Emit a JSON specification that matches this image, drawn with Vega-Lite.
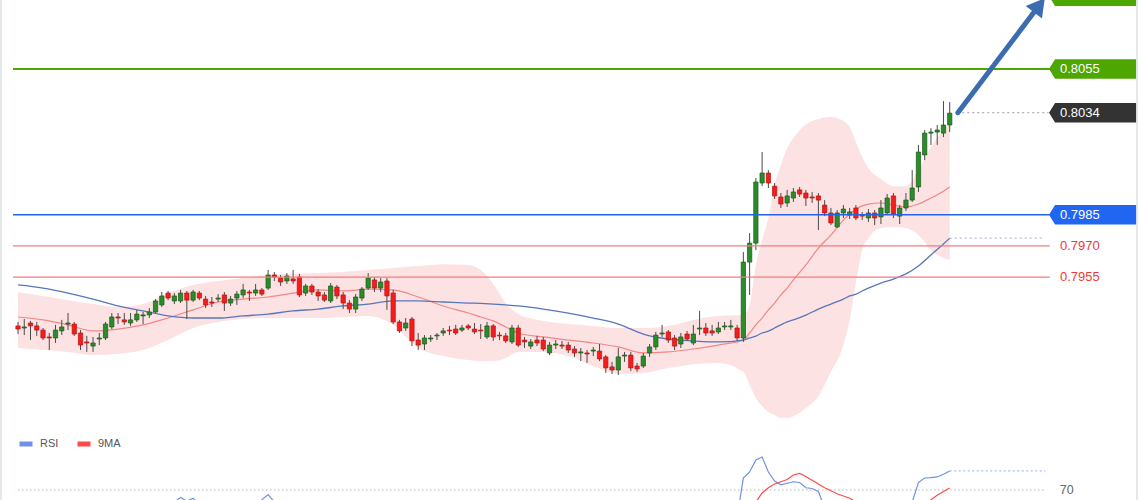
{
"$schema": "https://vega.github.io/schema/vega-lite/v6.json",
"width": 1140, "height": 500, "autosize": {"type": "none"}, "padding": 0,
"background": "#ffffff",
"config": {"view": {"stroke": null}, "font": "Liberation Sans"},
"datasets": {
"candles": [
{"i":0,"o":0.79315,"c":0.79300,"h":0.79334,"l":0.79276},
{"i":1,"o":0.79305,"c":0.79310,"h":0.79348,"l":0.79271},
{"i":2,"o":0.79329,"c":0.79315,"h":0.79339,"l":0.79247},
{"i":3,"o":0.79315,"c":0.79295,"h":0.79334,"l":0.79267},
{"i":4,"o":0.79295,"c":0.79257,"h":0.79305,"l":0.79247},
{"i":5,"o":0.79262,"c":0.79257,"h":0.79281,"l":0.79199},
{"i":6,"o":0.79257,"c":0.79295,"h":0.79320,"l":0.79233},
{"i":7,"o":0.79291,"c":0.79310,"h":0.79344,"l":0.79271},
{"i":8,"o":0.79324,"c":0.79329,"h":0.79377,"l":0.79295},
{"i":9,"o":0.79324,"c":0.79276,"h":0.79334,"l":0.79267},
{"i":10,"o":0.79281,"c":0.79223,"h":0.79295,"l":0.79199},
{"i":11,"o":0.79238,"c":0.79233,"h":0.79267,"l":0.79190},
{"i":12,"o":0.79218,"c":0.79233,"h":0.79262,"l":0.79190},
{"i":13,"o":0.79252,"c":0.79257,"h":0.79281,"l":0.79223},
{"i":14,"o":0.79257,"c":0.79324,"h":0.79334,"l":0.79247},
{"i":15,"o":0.79310,"c":0.79358,"h":0.79377,"l":0.79300},
{"i":16,"o":0.79358,"c":0.79353,"h":0.79377,"l":0.79324},
{"i":17,"o":0.79344,"c":0.79334,"h":0.79377,"l":0.79320},
{"i":18,"o":0.79329,"c":0.79344,"h":0.79377,"l":0.79315},
{"i":19,"o":0.79344,"c":0.79372,"h":0.79392,"l":0.79334},
{"i":20,"o":0.79363,"c":0.79368,"h":0.79382,"l":0.79324},
{"i":21,"o":0.79368,"c":0.79382,"h":0.79401,"l":0.79353},
{"i":22,"o":0.79382,"c":0.79435,"h":0.79444,"l":0.79377},
{"i":23,"o":0.79416,"c":0.79459,"h":0.79478,"l":0.79406},
{"i":24,"o":0.79473,"c":0.79449,"h":0.79483,"l":0.79439},
{"i":25,"o":0.79435,"c":0.79459,"h":0.79473,"l":0.79420},
{"i":26,"o":0.79435,"c":0.79473,"h":0.79488,"l":0.79425},
{"i":27,"o":0.79473,"c":0.79439,"h":0.79483,"l":0.79348},
{"i":28,"o":0.79439,"c":0.79478,"h":0.79488,"l":0.79430},
{"i":29,"o":0.79473,"c":0.79449,"h":0.79483,"l":0.79439},
{"i":30,"o":0.79444,"c":0.79416,"h":0.79459,"l":0.79401},
{"i":31,"o":0.79430,"c":0.79425,"h":0.79454,"l":0.79406},
{"i":32,"o":0.79444,"c":0.79449,"h":0.79468,"l":0.79430},
{"i":33,"o":0.79464,"c":0.79425,"h":0.79478,"l":0.79387},
{"i":34,"o":0.79425,"c":0.79444,"h":0.79459,"l":0.79411},
{"i":35,"o":0.79449,"c":0.79468,"h":0.79483,"l":0.79416},
{"i":36,"o":0.79464,"c":0.79488,"h":0.79517,"l":0.79449},
{"i":37,"o":0.79478,"c":0.79473,"h":0.79488,"l":0.79435},
{"i":38,"o":0.79473,"c":0.79488,"h":0.79517,"l":0.79459},
{"i":39,"o":0.79488,"c":0.79468,"h":0.79497,"l":0.79459},
{"i":40,"o":0.79497,"c":0.79560,"h":0.79584,"l":0.79488},
{"i":41,"o":0.79560,"c":0.79550,"h":0.79574,"l":0.79531},
{"i":42,"o":0.79545,"c":0.79526,"h":0.79560,"l":0.79507},
{"i":43,"o":0.79531,"c":0.79555,"h":0.79569,"l":0.79517},
{"i":44,"o":0.79541,"c":0.79531,"h":0.79584,"l":0.79517},
{"i":45,"o":0.79550,"c":0.79464,"h":0.79565,"l":0.79454},
{"i":46,"o":0.79473,"c":0.79507,"h":0.79517,"l":0.79459},
{"i":47,"o":0.79507,"c":0.79478,"h":0.79517,"l":0.79464},
{"i":48,"o":0.79478,"c":0.79459,"h":0.79492,"l":0.79435},
{"i":49,"o":0.79464,"c":0.79439,"h":0.79478,"l":0.79430},
{"i":50,"o":0.79435,"c":0.79507,"h":0.79521,"l":0.79425},
{"i":51,"o":0.79502,"c":0.79459,"h":0.79512,"l":0.79444},
{"i":52,"o":0.79464,"c":0.79425,"h":0.79478,"l":0.79396},
{"i":53,"o":0.79425,"c":0.79396,"h":0.79439,"l":0.79377},
{"i":54,"o":0.79396,"c":0.79454,"h":0.79468,"l":0.79377},
{"i":55,"o":0.79449,"c":0.79492,"h":0.79502,"l":0.79435},
{"i":56,"o":0.79497,"c":0.79545,"h":0.79569,"l":0.79488},
{"i":57,"o":0.79536,"c":0.79497,"h":0.79550,"l":0.79478},
{"i":58,"o":0.79497,"c":0.79526,"h":0.79545,"l":0.79478},
{"i":59,"o":0.79531,"c":0.79459,"h":0.79545,"l":0.79392},
{"i":60,"o":0.79473,"c":0.79334,"h":0.79488,"l":0.79324},
{"i":61,"o":0.79334,"c":0.79291,"h":0.79344,"l":0.79281},
{"i":62,"o":0.79305,"c":0.79329,"h":0.79353,"l":0.79291},
{"i":63,"o":0.79348,"c":0.79243,"h":0.79358,"l":0.79218},
{"i":64,"o":0.79247,"c":0.79223,"h":0.79281,"l":0.79199},
{"i":65,"o":0.79228,"c":0.79257,"h":0.79271,"l":0.79199},
{"i":66,"o":0.79252,"c":0.79257,"h":0.79271,"l":0.79238},
{"i":67,"o":0.79267,"c":0.79271,"h":0.79281,"l":0.79247},
{"i":68,"o":0.79281,"c":0.79291,"h":0.79305,"l":0.79267},
{"i":69,"o":0.79295,"c":0.79291,"h":0.79315,"l":0.79271},
{"i":70,"o":0.79300,"c":0.79281,"h":0.79320,"l":0.79271},
{"i":71,"o":0.79295,"c":0.79305,"h":0.79320,"l":0.79286},
{"i":72,"o":0.79315,"c":0.79305,"h":0.79324,"l":0.79295},
{"i":73,"o":0.79300,"c":0.79286,"h":0.79329,"l":0.79276},
{"i":74,"o":0.79295,"c":0.79291,"h":0.79324,"l":0.79252},
{"i":75,"o":0.79262,"c":0.79315,"h":0.79334,"l":0.79252},
{"i":76,"o":0.79315,"c":0.79262,"h":0.79324,"l":0.79243},
{"i":77,"o":0.79271,"c":0.79267,"h":0.79286,"l":0.79247},
{"i":78,"o":0.79267,"c":0.79243,"h":0.79281,"l":0.79233},
{"i":79,"o":0.79238,"c":0.79305,"h":0.79320,"l":0.79228},
{"i":80,"o":0.79305,"c":0.79223,"h":0.79320,"l":0.79214},
{"i":81,"o":0.79247,"c":0.79238,"h":0.79262,"l":0.79209},
{"i":82,"o":0.79218,"c":0.79238,"h":0.79252,"l":0.79204},
{"i":83,"o":0.79247,"c":0.79233,"h":0.79267,"l":0.79218},
{"i":84,"o":0.79247,"c":0.79204,"h":0.79262,"l":0.79194},
{"i":85,"o":0.79185,"c":0.79223,"h":0.79238,"l":0.79175},
{"i":86,"o":0.79223,"c":0.79228,"h":0.79247,"l":0.79204},
{"i":87,"o":0.79223,"c":0.79218,"h":0.79243,"l":0.79204},
{"i":88,"o":0.79223,"c":0.79199,"h":0.79238,"l":0.79185},
{"i":89,"o":0.79204,"c":0.79185,"h":0.79218,"l":0.79166},
{"i":90,"o":0.79185,"c":0.79190,"h":0.79209,"l":0.79146},
{"i":91,"o":0.79185,"c":0.79180,"h":0.79199,"l":0.79137},
{"i":92,"o":0.79194,"c":0.79199,"h":0.79214,"l":0.79170},
{"i":93,"o":0.79194,"c":0.79156,"h":0.79228,"l":0.79146},
{"i":94,"o":0.79166,"c":0.79113,"h":0.79175,"l":0.79089},
{"i":95,"o":0.79118,"c":0.79103,"h":0.79142,"l":0.79084},
{"i":96,"o":0.79103,"c":0.79166,"h":0.79209,"l":0.79079},
{"i":97,"o":0.79170,"c":0.79175,"h":0.79190,"l":0.79142},
{"i":98,"o":0.79175,"c":0.79113,"h":0.79190,"l":0.79098},
{"i":99,"o":0.79122,"c":0.79108,"h":0.79137,"l":0.79094},
{"i":100,"o":0.79122,"c":0.79170,"h":0.79185,"l":0.79113},
{"i":101,"o":0.79185,"c":0.79214,"h":0.79228,"l":0.79166},
{"i":102,"o":0.79214,"c":0.79271,"h":0.79286,"l":0.79199},
{"i":103,"o":0.79276,"c":0.79281,"h":0.79320,"l":0.79262},
{"i":104,"o":0.79286,"c":0.79247,"h":0.79295,"l":0.79233},
{"i":105,"o":0.79257,"c":0.79218,"h":0.79271,"l":0.79199},
{"i":106,"o":0.79228,"c":0.79262,"h":0.79281,"l":0.79209},
{"i":107,"o":0.79276,"c":0.79252,"h":0.79291,"l":0.79243},
{"i":108,"o":0.79233,"c":0.79276,"h":0.79320,"l":0.79223},
{"i":109,"o":0.79300,"c":0.79305,"h":0.79387,"l":0.79271},
{"i":110,"o":0.79305,"c":0.79281,"h":0.79329,"l":0.79267},
{"i":111,"o":0.79291,"c":0.79281,"h":0.79320,"l":0.79267},
{"i":112,"o":0.79286,"c":0.79305,"h":0.79334,"l":0.79276},
{"i":113,"o":0.79310,"c":0.79315,"h":0.79334,"l":0.79295},
{"i":114,"o":0.79310,"c":0.79315,"h":0.79344,"l":0.79295},
{"i":115,"o":0.79305,"c":0.79257,"h":0.79320,"l":0.79243},
{"i":116,"o":0.79257,"c":0.79622,"h":0.79670,"l":0.79238},
{"i":117,"o":0.79622,"c":0.79713,"h":0.79761,"l":0.79464},
{"i":118,"o":0.79713,"c":0.80007,"h":0.80026,"l":0.79679},
{"i":119,"o":0.80002,"c":0.80050,"h":0.80151,"l":0.79987},
{"i":120,"o":0.80050,"c":0.80002,"h":0.80064,"l":0.79978},
{"i":121,"o":0.79987,"c":0.79940,"h":0.80002,"l":0.79925},
{"i":122,"o":0.79935,"c":0.79901,"h":0.79954,"l":0.79882},
{"i":123,"o":0.79906,"c":0.79940,"h":0.79969,"l":0.79887},
{"i":124,"o":0.79930,"c":0.79959,"h":0.79978,"l":0.79911},
{"i":125,"o":0.79969,"c":0.79949,"h":0.79983,"l":0.79935},
{"i":126,"o":0.79954,"c":0.79930,"h":0.79969,"l":0.79892},
{"i":127,"o":0.79935,"c":0.79930,"h":0.79959,"l":0.79906},
{"i":128,"o":0.79940,"c":0.79920,"h":0.79954,"l":0.79776},
{"i":129,"o":0.79896,"c":0.79858,"h":0.79920,"l":0.79843},
{"i":130,"o":0.79858,"c":0.79810,"h":0.79882,"l":0.79800},
{"i":131,"o":0.79791,"c":0.79858,"h":0.79872,"l":0.79786},
{"i":132,"o":0.79858,"c":0.79877,"h":0.79896,"l":0.79834},
{"i":133,"o":0.79848,"c":0.79863,"h":0.79882,"l":0.79829},
{"i":134,"o":0.79882,"c":0.79834,"h":0.79896,"l":0.79824},
{"i":135,"o":0.79848,"c":0.79843,"h":0.79863,"l":0.79824},
{"i":136,"o":0.79834,"c":0.79858,"h":0.79877,"l":0.79815},
{"i":137,"o":0.79858,"c":0.79834,"h":0.79872,"l":0.79800},
{"i":138,"o":0.79839,"c":0.79882,"h":0.79920,"l":0.79805},
{"i":139,"o":0.79858,"c":0.79930,"h":0.79949,"l":0.79848},
{"i":140,"o":0.79940,"c":0.79853,"h":0.79954,"l":0.79834},
{"i":141,"o":0.79843,"c":0.79882,"h":0.79896,"l":0.79805},
{"i":142,"o":0.79882,"c":0.79920,"h":0.79954,"l":0.79868},
{"i":143,"o":0.79920,"c":0.79978,"h":0.80064,"l":0.79911},
{"i":144,"o":0.79983,"c":0.80151,"h":0.80185,"l":0.79959},
{"i":145,"o":0.80137,"c":0.80242,"h":0.80257,"l":0.80112},
{"i":146,"o":0.80242,"c":0.80247,"h":0.80266,"l":0.80185},
{"i":147,"o":0.80247,"c":0.80257,"h":0.80281,"l":0.80185},
{"i":148,"o":0.80242,"c":0.80281,"h":0.80396,"l":0.80223},
{"i":149,"o":0.80281,"c":0.80338,"h":0.80391,"l":0.80247}
],
"band": [
{"i":0,"up":0.79478,"lo":0.79209,"mid":0.79358,"ma":0.79512},
{"i":4,"up":0.79459,"lo":0.79199,"mid":0.79344,"ma":0.79497},
{"i":8,"up":0.79439,"lo":0.79190,"mid":0.79320,"ma":0.79473},
{"i":12,"up":0.79420,"lo":0.79175,"mid":0.79291,"ma":0.79444},
{"i":16,"up":0.79406,"lo":0.79180,"mid":0.79300,"ma":0.79411},
{"i":20,"up":0.79420,"lo":0.79199,"mid":0.79320,"ma":0.79387},
{"i":24,"up":0.79473,"lo":0.79247,"mid":0.79353,"ma":0.79363},
{"i":28,"up":0.79512,"lo":0.79305,"mid":0.79392,"ma":0.79353},
{"i":32,"up":0.79531,"lo":0.79334,"mid":0.79430,"ma":0.79353},
{"i":36,"up":0.79545,"lo":0.79348,"mid":0.79444,"ma":0.79363},
{"i":40,"up":0.79560,"lo":0.79353,"mid":0.79454,"ma":0.79372},
{"i":44,"up":0.79565,"lo":0.79353,"mid":0.79473,"ma":0.79387},
{"i":48,"up":0.79569,"lo":0.79353,"mid":0.79488,"ma":0.79396},
{"i":52,"up":0.79574,"lo":0.79358,"mid":0.79483,"ma":0.79411},
{"i":56,"up":0.79584,"lo":0.79363,"mid":0.79492,"ma":0.79420},
{"i":60,"up":0.79593,"lo":0.79320,"mid":0.79488,"ma":0.79435},
{"i":64,"up":0.79603,"lo":0.79209,"mid":0.79454,"ma":0.79435},
{"i":68,"up":0.79612,"lo":0.79170,"mid":0.79411,"ma":0.79430},
{"i":72,"up":0.79608,"lo":0.79151,"mid":0.79377,"ma":0.79425},
{"i":74,"up":0.79584,"lo":0.79146,"mid":0.79358,"ma":0.79423},
{"i":76,"up":0.79517,"lo":0.79146,"mid":0.79339,"ma":0.79420},
{"i":78,"up":0.79425,"lo":0.79161,"mid":0.79310,"ma":0.79416},
{"i":80,"up":0.79372,"lo":0.79190,"mid":0.79281,"ma":0.79411},
{"i":84,"up":0.79339,"lo":0.79190,"mid":0.79262,"ma":0.79396},
{"i":88,"up":0.79324,"lo":0.79170,"mid":0.79247,"ma":0.79377},
{"i":92,"up":0.79315,"lo":0.79122,"mid":0.79233,"ma":0.79353},
{"i":96,"up":0.79305,"lo":0.79084,"mid":0.79214,"ma":0.79324},
{"i":100,"up":0.79305,"lo":0.79089,"mid":0.79185,"ma":0.79276},
{"i":104,"up":0.79315,"lo":0.79113,"mid":0.79190,"ma":0.79252},
{"i":108,"up":0.79344,"lo":0.79131,"mid":0.79204,"ma":0.79243},
{"i":112,"up":0.79363,"lo":0.79137,"mid":0.79223,"ma":0.79238},
{"i":116,"up":0.79367,"lo":0.79093,"mid":0.79247,"ma":0.79247},
{"i":117,"up":0.79416,"lo":0.79031,"mid":0.79281,"ma":0.79257},
{"i":118,"up":0.79608,"lo":0.78968,"mid":0.79320,"ma":0.79266},
{"i":119,"up":0.79728,"lo":0.78930,"mid":0.79353,"ma":0.79281},
{"i":120,"up":0.79834,"lo":0.78901,"mid":0.79392,"ma":0.79290},
{"i":121,"up":0.79992,"lo":0.78887,"mid":0.79425,"ma":0.79305},
{"i":122,"up":0.80088,"lo":0.78872,"mid":0.79464,"ma":0.79320},
{"i":123,"up":0.80170,"lo":0.78872,"mid":0.79497,"ma":0.79334},
{"i":124,"up":0.80218,"lo":0.78881,"mid":0.79536,"ma":0.79344},
{"i":126,"up":0.80285,"lo":0.78920,"mid":0.79608,"ma":0.79367},
{"i":128,"up":0.80309,"lo":0.78977,"mid":0.79689,"ma":0.79396},
{"i":130,"up":0.80319,"lo":0.79093,"mid":0.79752,"ma":0.79420},
{"i":132,"up":0.80300,"lo":0.79223,"mid":0.79824,"ma":0.79444},
{"i":133,"up":0.80271,"lo":0.79344,"mid":0.79853,"ma":0.79459},
{"i":134,"up":0.80199,"lo":0.79521,"mid":0.79877,"ma":0.79468},
{"i":135,"up":0.80127,"lo":0.79680,"mid":0.79892,"ma":0.79483},
{"i":136,"up":0.80074,"lo":0.79737,"mid":0.79901,"ma":0.79497},
{"i":138,"up":0.80021,"lo":0.79786,"mid":0.79906,"ma":0.79521},
{"i":140,"up":0.79987,"lo":0.79791,"mid":0.79896,"ma":0.79540},
{"i":142,"up":0.79987,"lo":0.79786,"mid":0.79887,"ma":0.79565},
{"i":144,"up":0.80064,"lo":0.79752,"mid":0.79901,"ma":0.79603},
{"i":146,"up":0.80175,"lo":0.79680,"mid":0.79930,"ma":0.79656},
{"i":148,"up":0.80257,"lo":0.79641,"mid":0.79963,"ma":0.79709},
{"i":149,"up":0.80290,"lo":0.79632,"mid":0.79983,"ma":0.79737}
],
"levels": [
{"p":0.8090,"label":"0.8090","kind":"target"},
{"p":0.8055,"label":"0.8055","kind":"resistance"},
{"p":0.8034,"label":"0.8034","kind":"price"},
{"p":0.7985,"label":"0.7985","kind":"pivot"},
{"p":0.7970,"label":"0.7970","kind":"support1"},
{"p":0.7955,"label":"0.7955","kind":"support2"}
],
"rsilevels": [{"r":70,"label":"70"}],
"arrow": [{"x":150.3,"y":0.8034,"x2":162.5,"y2":0.80824,"hx":163.33,"hy":0.80857}],
"rsi": [
{"i":0,"v":50,"s":"RSI"},{"i":3,"v":47,"s":"RSI"},{"i":6,"v":44,"s":"RSI"},{"i":9,"v":48,"s":"RSI"},{"i":12,"v":41,"s":"RSI"},{"i":15,"v":52,"s":"RSI"},{"i":18,"v":55,"s":"RSI"},{"i":21,"v":58,"s":"RSI"},{"i":23,"v":61,"s":"RSI"},{"i":25,"v":62,"s":"RSI"},{"i":26,"v":65,"s":"RSI"},{"i":27,"v":62.5,"s":"RSI"},{"i":28,"v":64.5,"s":"RSI"},{"i":29,"v":60,"s":"RSI"},{"i":31,"v":55,"s":"RSI"},{"i":33,"v":52,"s":"RSI"},{"i":36,"v":57,"s":"RSI"},{"i":38,"v":60,"s":"RSI"},{"i":40,"v":67,"s":"RSI"},{"i":41,"v":62,"s":"RSI"},{"i":43,"v":58,"s":"RSI"},{"i":45,"v":48,"s":"RSI"},{"i":48,"v":45,"s":"RSI"},{"i":50,"v":52,"s":"RSI"},{"i":53,"v":45,"s":"RSI"},{"i":56,"v":58,"s":"RSI"},{"i":58,"v":56,"s":"RSI"},{"i":60,"v":40,"s":"RSI"},{"i":63,"v":32,"s":"RSI"},{"i":66,"v":38,"s":"RSI"},{"i":70,"v":42,"s":"RSI"},{"i":75,"v":45,"s":"RSI"},{"i":79,"v":44,"s":"RSI"},{"i":82,"v":40,"s":"RSI"},{"i":86,"v":38,"s":"RSI"},{"i":90,"v":36,"s":"RSI"},{"i":94,"v":30,"s":"RSI"},{"i":96,"v":40,"s":"RSI"},{"i":99,"v":34,"s":"RSI"},{"i":102,"v":50,"s":"RSI"},{"i":105,"v":45,"s":"RSI"},{"i":108,"v":50,"s":"RSI"},{"i":110,"v":52,"s":"RSI"},{"i":112,"v":55,"s":"RSI"},{"i":113,"v":56,"s":"RSI"},{"i":114,"v":57,"s":"RSI"},{"i":115,"v":52,"s":"RSI"},{"i":116,"v":78,"s":"RSI"},{"i":117,"v":82,"s":"RSI"},{"i":118,"v":90,"s":"RSI"},{"i":119,"v":92,"s":"RSI"},{"i":120,"v":82,"s":"RSI"},{"i":121,"v":76,"s":"RSI"},{"i":122,"v":73.5,"s":"RSI"},{"i":123,"v":74.5,"s":"RSI"},{"i":124,"v":75.5,"s":"RSI"},{"i":125,"v":75,"s":"RSI"},{"i":126,"v":71.5,"s":"RSI"},{"i":127,"v":71,"s":"RSI"},{"i":128,"v":69,"s":"RSI"},{"i":129,"v":58,"s":"RSI"},{"i":130,"v":50,"s":"RSI"},{"i":131,"v":53,"s":"RSI"},{"i":132,"v":55,"s":"RSI"},{"i":133,"v":55,"s":"RSI"},{"i":134,"v":51,"s":"RSI"},{"i":135,"v":53,"s":"RSI"},{"i":136,"v":54,"s":"RSI"},{"i":137,"v":52,"s":"RSI"},{"i":138,"v":56,"s":"RSI"},{"i":139,"v":60,"s":"RSI"},{"i":140,"v":54,"s":"RSI"},{"i":141,"v":57,"s":"RSI"},{"i":142,"v":60,"s":"RSI"},{"i":143,"v":62,"s":"RSI"},{"i":144,"v":75,"s":"RSI"},{"i":145,"v":78,"s":"RSI"},{"i":146,"v":78.3,"s":"RSI"},{"i":147,"v":78.7,"s":"RSI"},{"i":148,"v":80.5,"s":"RSI"},{"i":149,"v":82.7,"s":"RSI"},
{"i":0,"v":48,"s":"9MA"},{"i":10,"v":47,"s":"9MA"},{"i":20,"v":52,"s":"9MA"},{"i":30,"v":58,"s":"9MA"},{"i":40,"v":60,"s":"9MA"},{"i":50,"v":55,"s":"9MA"},{"i":60,"v":50,"s":"9MA"},{"i":70,"v":40,"s":"9MA"},{"i":80,"v":43,"s":"9MA"},{"i":90,"v":40,"s":"9MA"},{"i":100,"v":38,"s":"9MA"},{"i":110,"v":48,"s":"9MA"},{"i":114,"v":52,"s":"9MA"},{"i":116,"v":56,"s":"9MA"},{"i":117,"v":58.5,"s":"9MA"},{"i":118,"v":62,"s":"9MA"},{"i":119,"v":68,"s":"9MA"},{"i":120,"v":71.5,"s":"9MA"},{"i":121,"v":74,"s":"9MA"},{"i":122,"v":75.5,"s":"9MA"},{"i":123,"v":77,"s":"9MA"},{"i":124,"v":80,"s":"9MA"},{"i":125,"v":81,"s":"9MA"},{"i":126,"v":79,"s":"9MA"},{"i":127,"v":76.5,"s":"9MA"},{"i":128,"v":74,"s":"9MA"},{"i":129,"v":71.5,"s":"9MA"},{"i":130,"v":69.5,"s":"9MA"},{"i":131,"v":67.5,"s":"9MA"},{"i":132,"v":66,"s":"9MA"},{"i":133,"v":64.5,"s":"9MA"},{"i":134,"v":62,"s":"9MA"},{"i":136,"v":59,"s":"9MA"},{"i":140,"v":57,"s":"9MA"},{"i":143,"v":58,"s":"9MA"},{"i":145,"v":61,"s":"9MA"},{"i":146,"v":63.5,"s":"9MA"},{"i":147,"v":66.5,"s":"9MA"},{"i":148,"v":69,"s":"9MA"},{"i":149,"v":71.3,"s":"9MA"}
]
},
"resolve": {"scale": {"y": "independent"}},
"layer": [
{"data": {"name": "band"}, "mark": {"type": "area", "interpolate": "monotone", "color": "#fce2e2", "opacity": 1},
 "encoding": {
  "x": {"field": "i", "type": "quantitative", "scale": {"domain": [-2.879, 179.43], "nice": false, "zero": false, "padding": 0}, "axis": null},
  "y": {"field": "up", "type": "quantitative", "scale": {"domain": [0.78478, 0.80882], "nice": false, "zero": false}, "axis": null},
  "y2": {"field": "lo"}}},
{"data": {"name": "rsilevels"}, "mark": {"type": "rule", "color": "#e3e9e9", "strokeWidth": 2},
 "encoding": {
  "x": {"datum": -2.72, "type": "quantitative", "axis": null},
  "y": {"datum": 0.78478, "type": "quantitative", "scale": {"domain": [0.78478, 0.80882], "nice": false, "zero": false}, "axis": null},
  "y2": {"datum": 0.80882}}},
{"data": {"name": "rsilevels"}, "mark": {"type": "rule", "color": "#e3e9e9", "strokeWidth": 2},
 "encoding": {
  "x": {"datum": 178.95, "type": "quantitative", "axis": null},
  "y": {"datum": 0.78478, "type": "quantitative", "scale": {"domain": [0.78478, 0.80882], "nice": false, "zero": false}, "axis": null},
  "y2": {"datum": 0.80882}}},
{"data": {"name": "band"}, "mark": {"type": "line", "interpolate": "monotone", "color": "#f38787", "strokeWidth": 1.2},
 "encoding": {
  "x": {"field": "i", "type": "quantitative", "axis": null},
  "y": {"field": "mid", "type": "quantitative", "scale": {"domain": [0.78478, 0.80882], "nice": false, "zero": false}, "axis": null}}},
{"data": {"name": "band"}, "mark": {"type": "line", "interpolate": "monotone", "color": "#5677bb", "strokeWidth": 1.3},
 "encoding": {
  "x": {"field": "i", "type": "quantitative", "axis": null},
  "y": {"field": "ma", "type": "quantitative", "scale": {"domain": [0.78478, 0.80882], "nice": false, "zero": false}, "axis": null}}},
{"data": {"name": "band"}, "transform": [{"filter": "datum.i == 149"}],
 "mark": {"type": "rule", "color": "#b3bfd8", "strokeWidth": 1.2, "strokeDash": [2, 3]},
 "encoding": {
  "x": {"field": "i", "type": "quantitative", "axis": null}, "x2": {"datum": 164.2},
  "y": {"field": "ma", "type": "quantitative", "scale": {"domain": [0.78478, 0.80882], "nice": false, "zero": false}, "axis": null}}},
{"data": {"name": "candles"}, "mark": {"type": "rule", "color": "#4a4a4a", "strokeWidth": 1},
 "encoding": {
  "x": {"field": "i", "type": "quantitative", "axis": null},
  "y": {"field": "l", "type": "quantitative", "scale": {"domain": [0.78478, 0.80882], "nice": false, "zero": false}, "axis": null},
  "y2": {"field": "h"}}},
{"data": {"name": "candles"}, "mark": {"type": "bar", "size": 4.3, "strokeWidth": 0.7},
 "encoding": {
  "x": {"field": "i", "type": "quantitative", "axis": null},
  "y": {"field": "o", "type": "quantitative", "scale": {"domain": [0.78478, 0.80882], "nice": false, "zero": false}, "axis": null},
  "y2": {"field": "c"},
  "color": {"condition": {"test": "datum.c >= datum.o", "value": "#2a8c2a"}, "value": "#f21d1d"},
  "stroke": {"condition": {"test": "datum.c >= datum.o", "value": "#1b5a1b"}, "value": "#c01010"}}},
{"data": {"name": "levels"}, "transform": [{"filter": "datum.kind != 'price'"}],
 "mark": {"type": "rule"},
 "encoding": {
  "x": {"datum": -0.8, "type": "quantitative", "axis": null}, "x2": {"datum": 165.0},
  "y": {"field": "p", "type": "quantitative", "scale": {"domain": [0.78478, 0.80882], "nice": false, "zero": false}, "axis": null},
  "color": {"condition": [{"test": "datum.kind == 'pivot'", "value": "#2563e8"}, {"test": "datum.kind == 'support1' || datum.kind == 'support2'", "value": "#f27c7c"}], "value": "#4ea600"},
  "strokeWidth": {"condition": [{"test": "datum.kind == 'pivot'", "value": 1.5}, {"test": "datum.kind == 'support1' || datum.kind == 'support2'", "value": 1.3}], "value": 2}}},
{"data": {"name": "levels"}, "transform": [{"filter": "datum.kind == 'price'"}],
 "mark": {"type": "rule", "color": "#9c9c9c", "strokeWidth": 1, "strokeDash": [2, 3]},
 "encoding": {
  "x": {"datum": 150.2, "type": "quantitative", "axis": null}, "x2": {"datum": 164.8},
  "y": {"field": "p", "type": "quantitative", "scale": {"domain": [0.78478, 0.80882], "nice": false, "zero": false}, "axis": null}}},
{"data": {"name": "arrow"}, "mark": {"type": "rule", "color": "#3b6cb0", "strokeWidth": 5, "strokeCap": "round"},
 "encoding": {
  "x": {"field": "x", "type": "quantitative", "axis": null}, "x2": {"field": "x2"},
  "y": {"field": "y", "type": "quantitative", "scale": {"domain": [0.78478, 0.80882], "nice": false, "zero": false}, "axis": null}, "y2": {"field": "y2"}}},
{"data": {"name": "arrow"}, "mark": {"type": "point", "shape": "triangle-up", "angle": 38, "size": 420, "filled": true, "opacity": 1, "color": "#3b6cb0"},
 "encoding": {
  "x": {"field": "hx", "type": "quantitative", "axis": null},
  "y": {"field": "hy", "type": "quantitative", "scale": {"domain": [0.78478, 0.80882], "nice": false, "zero": false}, "axis": null}}},
{"data": {"name": "levels"}, "transform": [{"filter": "datum.kind != 'support1' && datum.kind != 'support2'"}],
 "mark": {"type": "point", "shape": "M-1,0L-0.862,-0.224L1,-0.224L1,0.224L-0.862,0.224Z", "size": 7569, "filled": true, "opacity": 1, "strokeWidth": 0},
 "encoding": {
  "x": {"datum": 171.84, "type": "quantitative", "axis": null},
  "y": {"field": "p", "type": "quantitative", "scale": {"domain": [0.78478, 0.80882], "nice": false, "zero": false}, "axis": null},
  "color": {"condition": [{"test": "datum.kind == 'pivot'", "value": "#2166f0"}, {"test": "datum.kind == 'price'", "value": "#333333"}], "value": "#4ea600"}}},
{"data": {"name": "levels"}, "transform": [{"filter": "datum.kind != 'target'"}],
 "mark": {"type": "text", "align": "left", "baseline": "middle", "fontSize": 13, "font": "Liberation Sans"},
 "encoding": {
  "x": {"datum": 166.64, "type": "quantitative", "axis": null},
  "y": {"field": "p", "type": "quantitative", "scale": {"domain": [0.78478, 0.80882], "nice": false, "zero": false}, "axis": null},
  "text": {"field": "label"},
  "color": {"condition": {"test": "datum.kind == 'support1' || datum.kind == 'support2'", "value": "#f03a3a"}, "value": "#ffffff"}}},
{"data": {"name": "rsilevels"}, "mark": {"type": "rule", "color": "#b5b5b5", "strokeWidth": 1, "strokeDash": [1.5, 2.5]},
 "encoding": {
  "x": {"datum": 0, "type": "quantitative", "axis": null}, "x2": {"datum": 164.2},
  "y": {"field": "r", "type": "quantitative", "scale": {"domain": [63.333, 396.667], "nice": false, "zero": false}, "axis": null}}},
{"data": {"name": "rsilevels"}, "mark": {"type": "text", "align": "left", "baseline": "middle", "fontSize": 12.5, "font": "Liberation Sans", "color": "#666666"},
 "encoding": {
  "x": {"datum": 166.6, "type": "quantitative", "axis": null},
  "y": {"field": "r", "type": "quantitative", "scale": {"domain": [63.333, 396.667], "nice": false, "zero": false}, "axis": null},
  "text": {"field": "label"}}},
{"data": {"name": "rsi"}, "transform": [{"filter": "datum.i == 149 && datum.s == 'RSI'"}],
 "mark": {"type": "rule", "color": "#a9bfec", "strokeWidth": 1.2, "strokeDash": [2, 2.5]},
 "encoding": {
  "x": {"field": "i", "type": "quantitative", "axis": null}, "x2": {"datum": 164.3},
  "y": {"field": "v", "type": "quantitative", "scale": {"domain": [63.333, 396.667], "nice": false, "zero": false}, "axis": null}}},
{"data": {"name": "rsi"}, "mark": {"type": "line", "strokeWidth": 1.2, "clip": true},
 "encoding": {
  "x": {"field": "i", "type": "quantitative", "axis": null},
  "y": {"field": "v", "type": "quantitative", "scale": {"domain": [63.333, 396.667], "nice": false, "zero": false}, "axis": null},
  "color": {"field": "s", "type": "nominal",
   "scale": {"domain": ["RSI", "9MA"], "range": ["#6f90e6", "#ff4a4a"]},
   "legend": {"orient": "none", "legendX": 17, "legendY": 435, "direction": "horizontal", "title": null,
    "symbolType": "stroke", "symbolStrokeWidth": 5, "symbolSize": 169, "labelFontSize": 11, "labelColor": "#555555",
    "labelFont": "Liberation Sans", "labelOffset": 5, "columnPadding": 8, "padding": 0}}}}
]
}
